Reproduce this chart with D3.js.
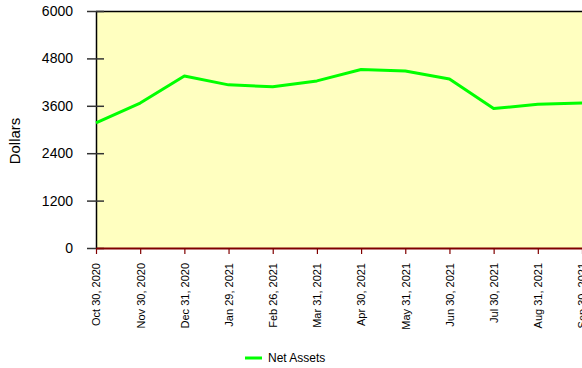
<!DOCTYPE html>
<html>
<head>
<meta charset="utf-8">
<script src="https://cdn.jsdelivr.net/npm/d3@7"></script>
<style>
  html, body { margin: 0; padding: 0; background: #fff; }
  svg { display: block; font-family: "Liberation Sans", Arial, sans-serif; }
</style>
</head>
<body>
<svg id="chart" width="582" height="368"></svg>
<script>
// Month-end dates shown along the x axis
const dates = ["Oct 30, 2020", "Nov 30, 2020", "Dec 31, 2020", "Jan 29, 2021", "Feb 26, 2021",
  "Mar 31, 2021", "Apr 30, 2021", "May 31, 2021", "Jun 30, 2021", "Jul 30, 2021",
  "Aug 31, 2021", "Sep 30, 2021"];
// Net assets in dollars at each date
const netAssets = [3165, 3670, 4355, 4130, 4085, 4230, 4520, 4480, 4280, 3530, 3640, 3670];
// Y axis tick values
const yTicks = [0, 1200, 2400, 3600, 4800, 6000];
const seriesName = "Net Assets";

const svg = d3.select("#chart");
const margin = { left: 96, top: 11 };
const W = 582;
const plotW = W - margin.left;
const plotH = 237;

const x = d3.scalePoint().domain(dates).range([0, plotW]);
const y = d3.scaleLinear().domain([0, 6000]).range([plotH, 0]);

const g = svg.append("g").attr("transform", `translate(${margin.left},${margin.top})`);

// Plot background
g.append("rect").attr("x", 0).attr("y", 0).attr("width", plotW + 2).attr("height", plotH)
  .attr("fill", "#ffffc0");

// Top border
g.append("line").attr("x1", 0).attr("x2", plotW + 2).attr("y1", 0.5).attr("y2", 0.5)
  .attr("stroke", "#000").attr("stroke-width", 1.5);

// Y axis
const yAxis = g.append("g")
  .call(d3.axisLeft(y).tickValues(yTicks).tickFormat(d3.format("d"))
    .tickSize(9).tickPadding(14).tickSizeOuter(0));
yAxis.select(".domain").attr("stroke", "#000").attr("stroke-width", 1.5);
yAxis.selectAll(".tick line").attr("stroke", "#333").attr("stroke-width", 1.5).attr("x2", -9).attr("x1", 8);
yAxis.selectAll(".tick text").attr("font-size", 14).attr("fill", "#000")
  .attr("font-family", "Liberation Sans, Arial, sans-serif");

// X axis
const xAxis = g.append("g").attr("transform", `translate(0,${plotH})`)
  .call(d3.axisBottom(x).tickSize(6).tickSizeOuter(0));
xAxis.select(".domain").attr("stroke", "#800000").attr("stroke-width", 2);
xAxis.selectAll(".tick line").attr("stroke", "#800000").attr("stroke-width", 1.2);
xAxis.selectAll(".tick text")
  .attr("font-size", 11).attr("fill", "#000")
  .attr("font-family", "Liberation Sans, Arial, sans-serif")
  .attr("text-anchor", "end")
  .attr("transform", "rotate(-90)")
  .attr("x", -15).attr("y", 0).attr("dy", "0.35em");

// Series line
const line = d3.line().x((d, i) => x(dates[i])).y(d => y(d));
g.append("path").datum(netAssets)
  .attr("d", line)
  .attr("fill", "none")
  .attr("stroke", "#00ff00")
  .attr("stroke-width", 3)
  .attr("stroke-linejoin", "round");

// Y axis title
svg.append("text")
  .attr("transform", `translate(20,${margin.top + 130}) rotate(-90)`)
  .attr("text-anchor", "middle")
  .attr("font-size", 15)
  .attr("fill", "#000")
  .text("Dollars");

// Legend
const lg = svg.append("g").attr("transform", "translate(245,358)");
lg.append("line").attr("x1", 0).attr("x2", 17).attr("y1", 0).attr("y2", 0)
  .attr("stroke", "#00ff00").attr("stroke-width", 3);
lg.append("text").attr("x", 23).attr("y", 0).attr("dy", "0.35em")
  .attr("font-size", 12).attr("fill", "#000").text(seriesName);
</script>
</body>
</html>
